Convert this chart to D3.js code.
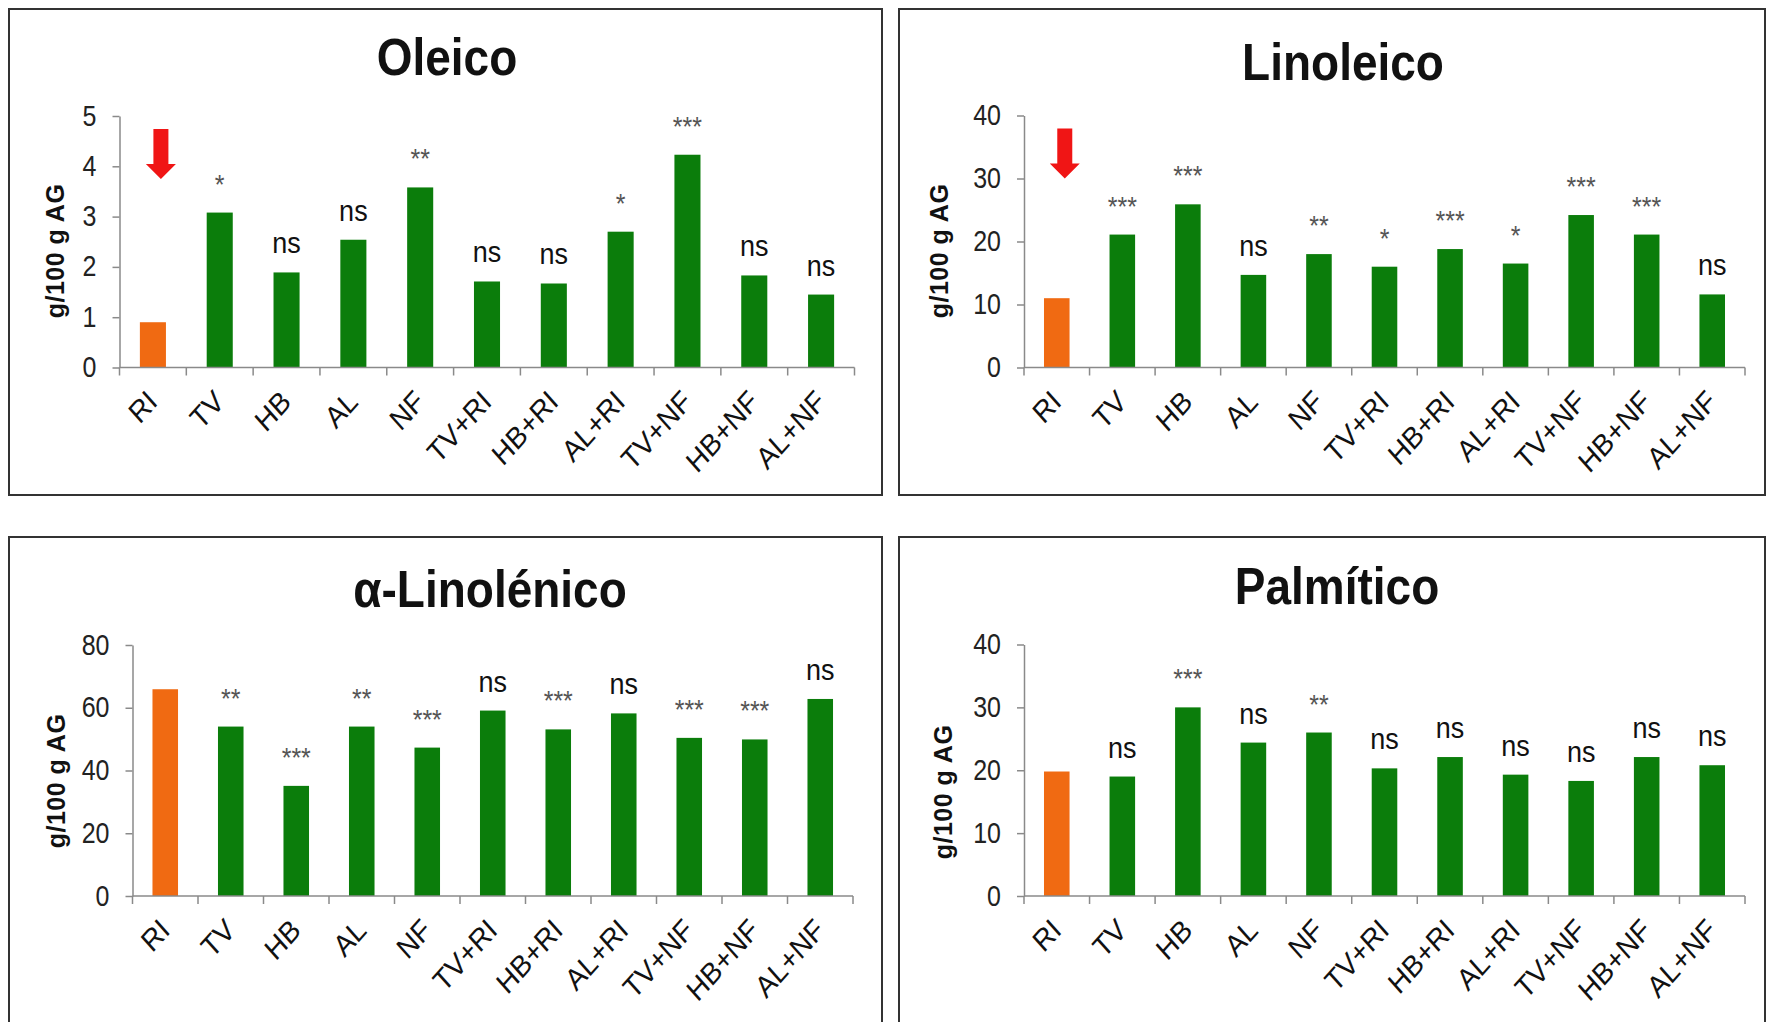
<!DOCTYPE html>
<html>
<head>
<meta charset="utf-8">
<script src="https://cdn.jsdelivr.net/npm/d3@7"></script>
<style>
  html, body { margin: 0; padding: 0; background: #ffffff; }
  svg { display: block; font-family: "Liberation Sans", Arial, sans-serif; }
</style>
</head>
<body>
<svg id="chart" width="1767" height="1022"></svg>
<script>
// Treatments (x categories), shared by every panel
const categories = ["RI", "TV", "HB", "AL", "NF", "TV+RI", "HB+RI", "AL+RI", "TV+NF", "HB+NF", "AL+NF"];

// Fatty acid contents, g/100 g AG
const oleico         = [0.90, 3.08, 1.89, 2.54, 3.58, 1.71, 1.67, 2.70, 4.23, 1.83, 1.45];
const linoleico      = [11.0, 21.1, 25.9, 14.7, 18.0, 16.0, 18.8, 16.5, 24.2, 21.1, 11.6];
const alfaLinolenico = [65.9, 54.0, 35.1, 54.0, 47.3, 59.1, 53.1, 58.2, 50.4, 49.9, 62.8];
const palmitico      = [19.8, 19.0, 30.0, 24.4, 26.0, 20.3, 22.1, 19.3, 18.3, 22.1, 20.8];

// Significance marks versus RI
const sigOleico         = ["", "*", "ns", "ns", "**", "ns", "ns", "*", "***", "ns", "ns"];
const sigLinoleico      = ["", "***", "***", "ns", "**", "*", "***", "*", "***", "***", "ns"];
const sigAlfaLinolenico = ["", "**", "***", "**", "***", "ns", "***", "ns", "***", "***", "ns"];
const sigPalmitico      = ["", "ns", "***", "ns", "**", "ns", "ns", "ns", "ns", "ns", "ns"];

// Y tick values
const ticksOleico         = [0, 1, 2, 3, 4, 5];
const ticksLinoleico      = [0, 10, 20, 30, 40];
const ticksAlfaLinolenico = [0, 20, 40, 60, 80];
const ticksPalmitico      = [0, 10, 20, 30, 40];

const titles = ["Oleico", "Linoleico", "α-Linolénico", "Palmítico"];
const yAxisTitle = "g/100 g AG";

const panels = [
  { title: titles[0], values: oleico, sig: sigOleico, ticks: ticksOleico, arrow: true,
    frame: [9, 9, 873, 486], plot: [119.5, 854.5, 116, 367.5], titleX: 447, titleY: 75, yLabX: 64, yLabY: 251 },
  { title: titles[1], values: linoleico, sig: sigLinoleico, ticks: ticksLinoleico, arrow: true,
    frame: [899, 9, 866, 486], plot: [1024, 1745, 115.5, 367.5], titleX: 1343, titleY: 80, yLabX: 948, yLabY: 251 },
  { title: titles[2], values: alfaLinolenico, sig: sigAlfaLinolenico, ticks: ticksAlfaLinolenico, arrow: false,
    frame: [9, 537, 873, 500], plot: [132.5, 853, 645, 896], titleX: 490, titleY: 607, yLabX: 65, yLabY: 781 },
  { title: titles[3], values: palmitico, sig: sigPalmitico, ticks: ticksPalmitico, arrow: false,
    frame: [899, 537, 866, 500], plot: [1024, 1745, 644.5, 896], titleX: 1337, titleY: 604, yLabX: 952, yLabY: 792 }
];

const svg = d3.select("#chart");
const GREEN = "#0b7d0b", ORANGE = "#f06a12", AXIS = "#8a8a8a";
const STRETCH = 1.12;   // glyphs are drawn slightly taller than wide

panels.forEach(p => {
  const g = svg.append("g");
  const [fx, fy, fw, fh] = p.frame;
  const [x0, x1, yTop, y0] = p.plot;

  g.append("rect")
    .attr("x", fx).attr("y", fy).attr("width", fw).attr("height", fh)
    .attr("fill", "#ffffff").attr("stroke", "#333333").attr("stroke-width", 2);

  const x = d3.scaleBand().domain(categories).range([x0, x1])
    .paddingInner(0.61).paddingOuter(0.305);
  const y = d3.scaleLinear().domain([0, d3.max(p.ticks)]).range([y0, yTop]);

  // title
  g.append("text")
    .attr("transform", `translate(${p.titleX},${p.titleY}) scale(1,${STRETCH})`)
    .attr("text-anchor", "middle")
    .attr("font-size", 46).attr("font-weight", "bold").attr("fill", "#111")
    .text(p.title);

  // y axis
  const yAxis = d3.axisLeft(y).tickValues(p.ticks).tickSize(7).tickSizeOuter(0).tickPadding(16)
    .tickFormat(d3.format("d"));
  const ya = g.append("g").attr("transform", `translate(${x0},0)`).call(yAxis);
  ya.select(".domain").attr("stroke", AXIS).attr("stroke-width", 1.5);
  ya.selectAll(".tick line").attr("stroke", AXIS).attr("stroke-width", 1.5);
  ya.selectAll(".tick text")
    .attr("x", null).attr("dy", null)
    .attr("transform", `translate(-23,9) scale(1,${STRETCH + 0.06})`)
    .attr("font-size", 25).attr("fill", "#222")
    .attr("font-family", "'Liberation Sans', Arial, sans-serif");

  // y axis title
  g.append("text")
    .attr("transform", `translate(${p.yLabX},${p.yLabY}) rotate(-90)`)
    .attr("text-anchor", "middle")
    .attr("font-size", 25).attr("font-weight", "bold").attr("fill", "#111")
    .attr("letter-spacing", 0.5)
    .text(yAxisTitle);

  // bars
  g.selectAll("rect.bar").data(p.values).join("rect")
    .attr("class", "bar")
    .attr("x", (d, i) => x(categories[i]))
    .attr("width", x.bandwidth())
    .attr("y", d => y(d))
    .attr("height", d => y(0) - y(d))
    .attr("fill", (d, i) => i === 0 ? ORANGE : GREEN);

  // x axis line and category boundary ticks
  g.append("line").attr("x1", x0).attr("x2", x1).attr("y1", y0).attr("y2", y0)
    .attr("stroke", AXIS).attr("stroke-width", 1.5);
  g.selectAll("line.xtick").data(d3.range(categories.length + 1)).join("line")
    .attr("class", "xtick")
    .attr("x1", i => x0 + i * x.step()).attr("x2", i => x0 + i * x.step())
    .attr("y1", y0).attr("y2", y0 + 8)
    .attr("stroke", AXIS).attr("stroke-width", 1.5);

  // category labels
  g.selectAll("text.cat").data(categories).join("text")
    .attr("class", "cat")
    .attr("transform", c => `translate(${x(c) + x.bandwidth() / 2 + 6},${y0 + 36}) scale(1,${STRETCH}) rotate(-45)`)
    .attr("text-anchor", "end")
    .attr("font-size", 27).attr("fill", "#111")
    .text(c => c);

  // significance marks
  g.selectAll("text.sig").data(p.values).join("text")
    .attr("class", "sig")
    .attr("transform", (d, i) => `translate(${x(categories[i]) + x.bandwidth() / 2},${y(d) - 19}) scale(1,${STRETCH})`)
    .attr("text-anchor", "middle")
    .attr("font-size", (d, i) => p.sig[i] === "ns" ? 27 : 25)
    .attr("fill", (d, i) => p.sig[i] === "ns" ? "#111" : "#555")
    .text((d, i) => p.sig[i]);

  // red arrow pointing at the RI reference bar
  if (p.arrow) {
    const cx = x(categories[0]) + x.bandwidth() / 2 + 8;
    const top = yTop + 13, neck = yTop + 48, tip = yTop + 63;
    const sw = 7.5, hw = 15;
    const path = d3.path();
    path.moveTo(cx - sw, top);
    path.lineTo(cx + sw, top);
    path.lineTo(cx + sw, neck);
    path.lineTo(cx + hw, neck);
    path.lineTo(cx, tip);
    path.lineTo(cx - hw, neck);
    path.lineTo(cx - sw, neck);
    path.closePath();
    g.append("path").attr("d", path.toString()).attr("fill", "#f01515");
  }
});
</script>
</body>
</html>
